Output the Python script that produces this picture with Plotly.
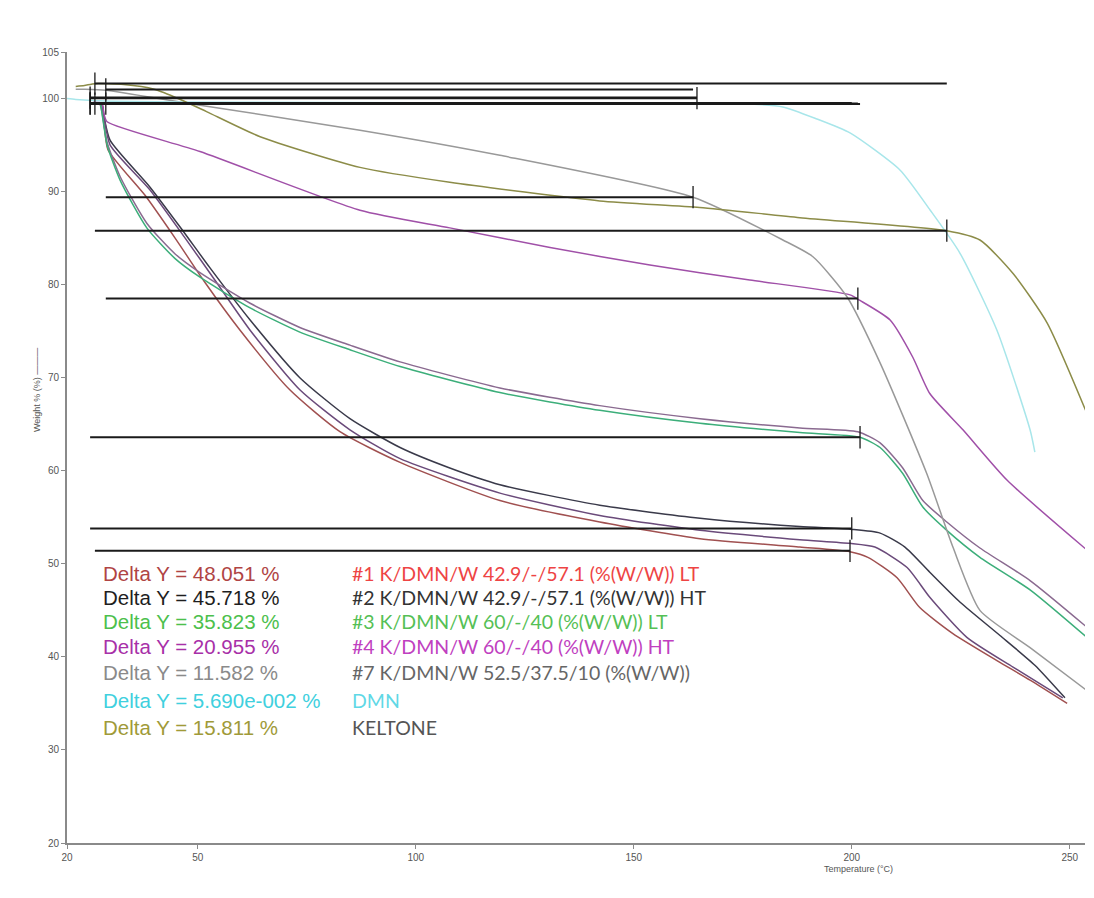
import plotly.graph_objects as go

# ---------------- data ----------------
# Temperature (°C) / Weight (%) curves
s1_x = [26.4, 28.0, 28.5, 29.4, 37.9, 44.8, 51.7, 59.7, 71.1, 82.6, 96.4, 119.3, 142.2, 165.2, 188.1, 199.6,
        203.7, 210.4, 215.6, 223.2, 233.3, 240.9, 249.4]
s1_y = [99.45, 99.3, 97.5, 94.5, 89.6, 85.0, 80.2, 75.1, 68.7, 64.2, 60.9, 56.8, 54.5, 52.7, 51.8, 51.3,
        50.7, 48.5, 45.3, 42.5, 39.6, 37.5, 35.0]

s2_x = [25.3, 28.0, 28.5, 29.9, 39.0, 46.4, 52.8, 62.0, 73.4, 84.9, 96.4, 107.8, 119.3, 142.2, 165.2, 188.1, 200.0,
        206.5, 212.2, 217.9, 224.8, 234.0, 242.0, 248.9]
s2_y = [99.5, 99.4, 98.0, 95.5, 90.5, 85.9, 81.8, 76.2, 70.0, 65.6, 62.5, 60.3, 58.5, 56.3, 54.9, 54.0, 53.7,
        53.3, 51.8, 49.1, 45.9, 42.3, 39.1, 35.6]

s2b_x = [28.0, 28.5, 29.9, 39.0, 47.1, 53.9, 62.0, 73.4, 84.9, 96.4, 119.3, 142.2, 165.2, 188.1, 199.6,
         205.3, 212.7, 217.9, 226.4, 237.0, 248.4]
s2b_y = [99.4, 98.0, 95.0, 90.2, 85.0, 80.5, 75.1, 68.7, 64.4, 61.3, 57.6, 55.2, 53.6, 52.6, 52.2,
         51.8, 49.6, 46.4, 42.1, 38.9, 35.6]

s3_x = [25.3, 27.6, 28.0, 29.2, 32.2, 38.3, 44.8, 50.5, 62.0, 73.4, 84.9, 96.4, 119.3, 142.2, 165.2, 188.1, 201.9,
        206.5, 211.7, 216.3, 221.8, 229.4, 240.9, 253.9]
s3_y = [99.42, 99.4, 98.5, 95.0, 91.2, 86.1, 82.8, 80.8, 77.5, 74.9, 73.0, 71.2, 68.4, 66.5, 65.1, 64.1, 63.6,
        62.5, 59.7, 56.1, 53.6, 50.7, 47.2, 42.1]

s3b_x = [27.6, 28.0, 29.2, 32.2, 38.3, 44.8, 50.5, 62.0, 73.4, 84.9, 96.4, 119.3, 142.2, 165.2, 188.1, 201.4,
         206.5, 211.7, 216.3, 221.8, 229.4, 240.9, 253.9]
s3b_y = [99.4, 98.6, 95.3, 91.6, 86.6, 83.3, 81.3, 78.0, 75.4, 73.5, 71.7, 68.9, 67.0, 65.6, 64.6, 64.2,
         63.0, 60.3, 56.8, 54.5, 51.7, 48.2, 43.2]

s4_x = [26.0, 28.0, 28.5, 29.2, 50.5, 87.2, 107.8, 130.8, 153.7, 176.6, 199.6, 201.9, 208.8, 214.0, 217.9,
        225.5, 235.6, 253.9]
s4_y = [99.6, 99.5, 98.3, 97.5, 94.3, 88.0, 86.1, 84.0, 82.1, 80.5, 78.9, 78.3, 76.2, 72.2, 68.3,
        64.4, 59.0, 51.5]

s7_x = [22.0, 24.1, 28.9, 47.5, 87.2, 119.3, 163.6, 184.2, 191.1, 198.9, 206.5, 217.2, 223.2, 229.4, 240.9, 253.9]
s7_y = [101.0, 101.0, 100.9, 99.5, 96.6, 93.9, 89.4, 84.8, 83.0, 78.7, 71.6, 59.7, 51.8, 45.0, 41.0, 36.4]

dmn_x = [20.0, 22.0, 30.0, 60.0, 100.0, 150.0, 175.0, 184.2, 192.0, 199.6, 211.1, 218.0, 224.8, 233.3, 240.9, 242.0]
dmn_y = [100.0, 99.9, 99.7, 99.6, 99.55, 99.5, 99.45, 99.1, 97.8, 96.3, 92.3, 88.0, 83.4, 75.1, 64.4, 62.0]

kel_x = [22.0, 24.0, 26.4, 33.0, 40.0, 46.0, 52.0, 64.3, 87.2, 107.8, 142.2, 165.1, 188.1, 221.8,
         229.4, 237.0, 244.8, 253.9]
kel_y = [101.3, 101.4, 101.6, 101.5, 101.0, 99.9, 98.6, 95.9, 92.6, 91.0, 89.0, 88.3, 87.2, 85.8,
         84.8, 81.2, 75.9, 66.2]

# Delta-Y step markers
delta_x1 = [26.4, 25.3, 25.3, 28.9, 28.9, 25.3, 26.4]
delta_x2 = [199.6, 200.0, 201.9, 201.4, 163.6, 164.5, 221.8]
delta_top = [99.45, 99.52, 99.42, 99.46, 100.98, 100.10, 101.61]
delta_values = [48.051, 45.718, 35.823, 20.955, 11.582, 0.0569, 15.811]
delta_labels = ["Delta Y = 48.051 %", "Delta Y = 45.718 %", "Delta Y = 35.823 %", "Delta Y = 20.955 %",
                "Delta Y = 11.582 %", "Delta Y = 5.690e-002 %", "Delta Y = 15.811 %"]
sample_names = ["#1 K/DMN/W 42.9/-/57.1 (%(W/W)) LT", "#2 K/DMN/W 42.9/-/57.1 (%(W/W)) HT",
                "#3 K/DMN/W 60/-/40 (%(W/W)) LT", "#4 K/DMN/W 60/-/40 (%(W/W)) HT",
                "#7 K/DMN/W 52.5/37.5/10 (%(W/W))", "DMN", "KELTONE"]

x_ticks = [20, 50, 100, 150, 200, 250]
y_ticks = [20, 30, 40, 50, 60, 70, 80, 90, 100, 105]

# ---------------- styles ----------------
delta_colors = ["#b04444", "#1e1e1e", "#4cc04c", "#a830a8", "#8a8a8a", "#40d0de", "#a09a38"]
name_colors = ["#ee4444", "#333333", "#55c055", "#c040c0", "#666666", "#5fd8e6", "#555555"]

fig = go.Figure()

curves = [
    (s1_x, s1_y, "#a05050"),
    (s2_x, s2_y, "#3a3a4a"),
    (s2b_x, s2b_y, "#6a4a7a"),
    (s3b_x, s3b_y, "#8a6a90"),
    (s3_x, s3_y, "#3cae7a"),
    (s4_x, s4_y, "#a050a8"),
    (s7_x, s7_y, "#999999"),
    (dmn_x, dmn_y, "#a8e6ea"),
    (kel_x, kel_y, "#8c8c48"),
]
for cx, cy, col in curves:
    fig.add_trace(go.Scatter(x=cx, y=cy, mode="lines",
                             line=dict(color=col, width=1.5, shape="spline", smoothing=0.6),
                             showlegend=False, hoverinfo="skip"))

# delta lines
lx, ly = [], []
tx, ty = [], []
th = 1.2
for x1, x2, top, d in zip(delta_x1, delta_x2, delta_top, delta_values):
    bot = top - d
    lx += [x1, x2, None, x1, x2, None]
    ly += [top, top, None, bot, bot, None]
    tx += [x1, x1, None, x2, x2, None]
    ty += [top - th, top + th, None, bot - th, bot + th, None]
fig.add_trace(go.Scatter(x=lx, y=ly, mode="lines", line=dict(color="#1a1a1a", width=2),
                         showlegend=False, hoverinfo="skip"))
fig.add_trace(go.Scatter(x=tx, y=ty, mode="lines", line=dict(color="#1a1a1a", width=1.3),
                         showlegend=False, hoverinfo="skip"))

# text legend (page-pixel positions converted to plot-area fractions)
L, R, T, B = 67, 1085, 52, 843
rows_py = [573, 597, 621, 646, 672, 700, 727]
for lab, nm, dc, nc, py in zip(delta_labels, sample_names, delta_colors, name_colors, rows_py):
    yp = (B - py) / (B - T)
    fig.add_annotation(x=(101 - L) / (R - L), y=yp, xref="paper", yref="paper", text=lab,
                       showarrow=False, xanchor="left", yanchor="middle",
                       font=dict(family="Liberation Sans, Arial", size=20.5, color=dc))
    fig.add_annotation(x=(350 - L) / (R - L), y=yp, xref="paper", yref="paper", text=nm,
                       showarrow=False, xanchor="left", yanchor="middle",
                       font=dict(family="Lato, Open Sans", size=19.5, color=nc))

fig.add_annotation(x=(30 - L) / (R - L), y=(B - 390) / (B - T), xref="paper", yref="paper",
                   text="Weight % (%) ———", textangle=-90, showarrow=False,
                   font=dict(family="Liberation Sans, Arial", size=9, color="#555555"))
fig.add_annotation(x=(895 - L) / (R - L), y=(B - 876) / (B - T), xref="paper", yref="paper",
                   text="Temperature (°C)", showarrow=False,
                   font=dict(family="Liberation Sans, Arial", size=9, color="#555555"))

axis_common = dict(showgrid=False, zeroline=False, showline=True, linecolor="#8a8a8a", linewidth=2,
                   ticks="outside", ticklen=4, tickcolor="#8a8a8a",
                   tickfont=dict(family="Liberation Sans, Arial", size=10, color="#555555"))
fig.update_xaxes(range=[20, 253.5], tickvals=x_ticks, **axis_common)
fig.update_yaxes(range=[20, 105], tickvals=y_ticks, **axis_common)

# the page body has an 8px margin, so the figure is shrunk/shifted to keep the plot area in place
PAGE_OFF = 8
FW, FH = 1094 - PAGE_OFF, 898 - PAGE_OFF
fig.update_layout(width=FW, height=FH,
                  margin=dict(l=L - PAGE_OFF, r=FW - (R - PAGE_OFF), t=T - PAGE_OFF, b=FH - (B - PAGE_OFF)),
                  plot_bgcolor="white", paper_bgcolor="white")

fig.write_html("out.html")
